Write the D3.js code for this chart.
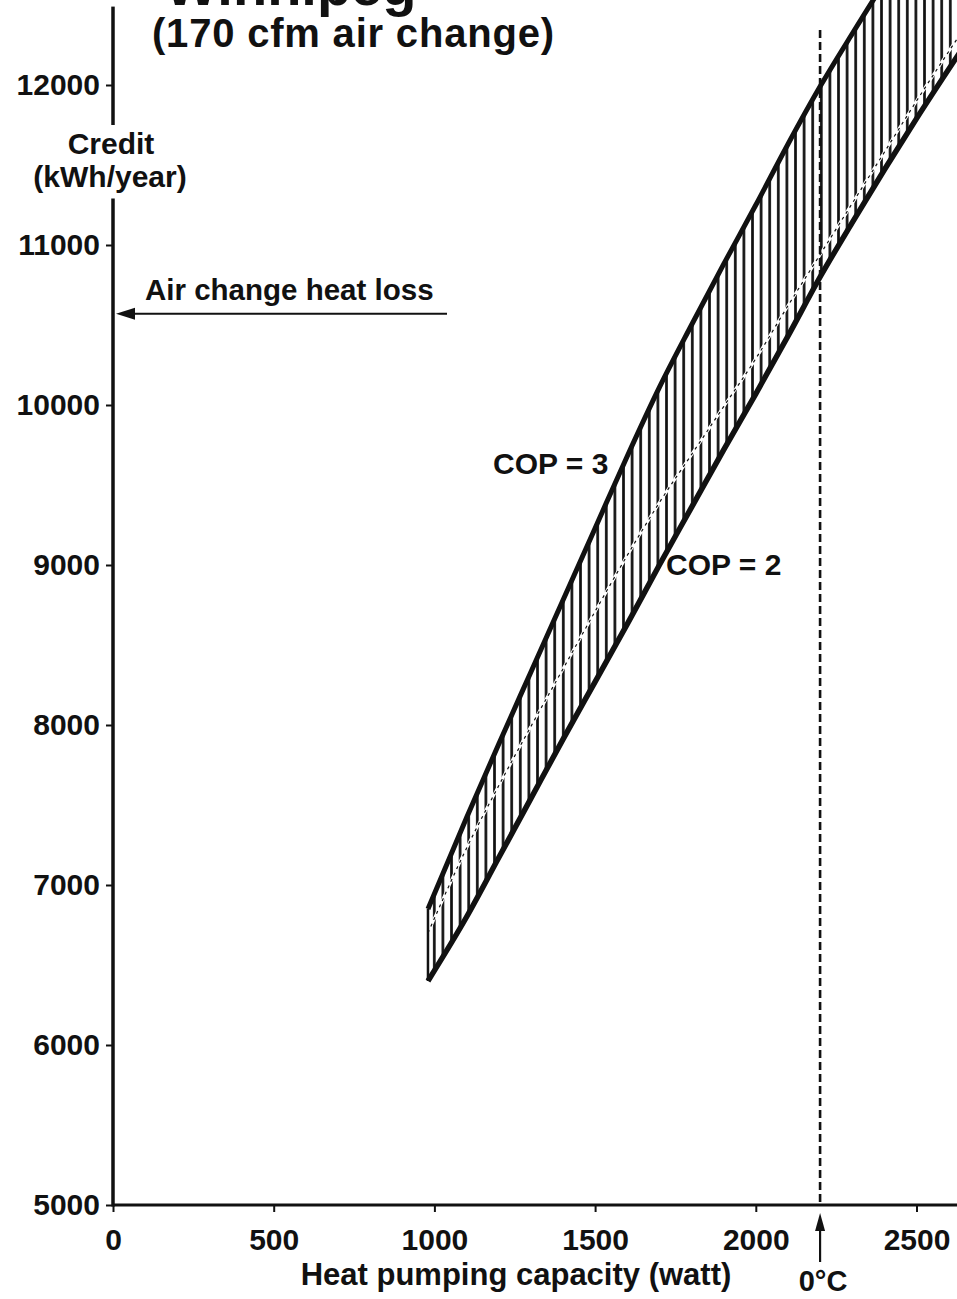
<!DOCTYPE html>
<html>
<head>
<meta charset="utf-8">
<script src="https://cdn.jsdelivr.net/npm/d3@7"></script>
<style>
  html, body { margin: 0; padding: 0; background: #fff; }
  svg { display: block; }
  text { font-family: "Liberation Sans", Arial, Helvetica, sans-serif; font-weight: bold; fill: #111; }
</style>
</head>
<body>
<div id="vis"></div>
<script>
// heat pumping capacity (watt) at which each curve was read
const capacity = [980, 1100, 1200, 1300, 1400, 1500, 1600, 1700, 1800, 1900, 2000, 2100, 2200, 2300, 2400, 2500, 2650];
// credit (kWh/year)
const cop3 = [6850, 7420, 7880, 8330, 8780, 9230, 9680, 10110, 10500, 10880, 11250, 11630, 11990, 12320, 12640, 12940, 13380];
const cop2 = [6400, 6800, 7170, 7540, 7910, 8270, 8630, 9000, 9360, 9720, 10070, 10430, 10800, 11140, 11470, 11790, 12250];
const midDashed = [6700, 7230, 7620, 7990, 8350, 8710, 9060, 9390, 9690, 9990, 10290, 10620, 10940, 11260, 11580, 11900, 12360];

const xTicks = [0, 500, 1000, 1500, 2000, 2500];
const yTicks = [5000, 6000, 7000, 8000, 9000, 10000, 11000, 12000];
const airChangeLoss = 10570;   // kWh/year
const zeroDegC = 2200;         // watt

const width = 957, height = 1299;

const svg = d3.select('#vis').append('svg')
  .attr('width', width)
  .attr('height', height);

const x = d3.scaleLinear().domain([0, 2500]).range([113, 916.5]);
const y = d3.scaleLinear().domain([5000, 12000]).range([1205, 85]);

// hatch pattern for the band
const defs = svg.append('defs');
defs.append('pattern')
  .attr('id', 'hatch')
  .attr('patternUnits', 'userSpaceOnUse')
  .attr('width', 8.6)
  .attr('height', 10)
  .append('line')
    .attr('x1', 4.3).attr('x2', 4.3)
    .attr('y1', 0).attr('y2', 10)
    .attr('stroke', '#111')
    .attr('stroke-width', 2.7);

// band between COP = 2 and COP = 3
const band = capacity.map((c, i) => ({ c: c, hi: cop3[i], lo: cop2[i], mid: midDashed[i] }));

const area = d3.area()
  .x(d => x(d.c))
  .y0(d => y(d.lo))
  .y1(d => y(d.hi))
  .curve(d3.curveMonotoneX);

svg.append('path')
  .datum(band)
  .attr('d', area)
  .attr('fill', 'url(#hatch)');

const lineOf = key => d3.line()
  .x(d => x(d.c))
  .y(d => y(d[key]))
  .curve(d3.curveMonotoneX);

// dashed middle line across the hatching
svg.append('path')
  .datum(band)
  .attr('d', lineOf('mid'))
  .attr('fill', 'none')
  .attr('stroke', '#fff')
  .attr('stroke-width', 3);
svg.append('path')
  .datum(band)
  .attr('d', lineOf('mid'))
  .attr('fill', 'none')
  .attr('stroke', '#111')
  .attr('stroke-width', 1.2)
  .attr('stroke-dasharray', '3,4');

svg.append('path')
  .datum(band)
  .attr('d', lineOf('hi'))
  .attr('fill', 'none')
  .attr('stroke', '#111')
  .attr('stroke-width', 5);

svg.append('path')
  .datum(band)
  .attr('d', lineOf('lo'))
  .attr('fill', 'none')
  .attr('stroke', '#111')
  .attr('stroke-width', 5.5);

svg.append('line')
  .attr('x1', x(capacity[0])).attr('x2', x(capacity[0]))
  .attr('y1', y(cop2[0])).attr('y2', y(cop3[0]))
  .attr('stroke', '#111')
  .attr('stroke-width', 2.5);

// 0°C dashed vertical
svg.append('line')
  .attr('x1', x(zeroDegC)).attr('x2', x(zeroDegC))
  .attr('y1', 30).attr('y2', y(5000))
  .attr('stroke', '#111')
  .attr('stroke-width', 2.6)
  .attr('stroke-dasharray', '8,4');

// axes
const yAxis = d3.axisLeft(y).tickValues(yTicks).tickSize(7).tickPadding(6).tickFormat(d3.format('d'));
const xAxis = d3.axisBottom(x).tickValues(xTicks).tickSize(7).tickPadding(17).tickFormat(d3.format('d'));

const gy = svg.append('g').attr('transform', 'translate(' + x(0) + ',0)').call(yAxis);
const gx = svg.append('g').attr('transform', 'translate(0,' + y(5000) + ')').call(xAxis);

[gx, gy].forEach(g => {
  g.select('.domain').remove();
  g.selectAll('.tick line').attr('stroke', '#111').attr('stroke-width', 2);
  g.selectAll('.tick text')
    .attr('fill', '#111')
    .style('font-size', '30px')
    .style('font-family', '"Liberation Sans", Arial, sans-serif')
    .style('font-weight', 'bold');
});

// y axis line, broken around its title
svg.append('line')
  .attr('x1', x(0)).attr('x2', x(0))
  .attr('y1', y(5000) + 1.5).attr('y2', y(11290))
  .attr('stroke', '#111').attr('stroke-width', 3.5);
svg.append('line')
  .attr('x1', x(0)).attr('x2', x(0))
  .attr('y1', y(11750)).attr('y2', y(12490))
  .attr('stroke', '#111').attr('stroke-width', 3.5);

svg.append('line')
  .attr('x1', x(0)).attr('x2', width)
  .attr('y1', y(5000)).attr('y2', y(5000))
  .attr('stroke', '#111').attr('stroke-width', 3);

// air change heat loss arrow
const ay = y(airChangeLoss);
svg.append('line')
  .attr('x1', x(0) + 14).attr('x2', 447)
  .attr('y1', ay).attr('y2', ay)
  .attr('stroke', '#111').attr('stroke-width', 2);
svg.append('path')
  .attr('d', 'M' + (x(0) + 3) + ',' + ay + 'L' + (x(0) + 22) + ',' + (ay - 6) + 'L' + (x(0) + 22) + ',' + (ay + 6) + 'Z')
  .attr('fill', '#111');

// 0°C arrow under the axis
const zx = x(zeroDegC);
svg.append('line')
  .attr('x1', zx).attr('x2', zx)
  .attr('y1', 1262).attr('y2', 1225)
  .attr('stroke', '#111').attr('stroke-width', 2.2);
svg.append('path')
  .attr('d', 'M' + zx + ',1213L' + (zx - 5) + ',1231L' + (zx + 5) + ',1231Z')
  .attr('fill', '#111');

// texts
function label(t, px, py, size, anchor, spacing) {
  svg.append('text')
    .attr('x', px).attr('y', py)
    .attr('text-anchor', anchor || 'start')
    .style('font-size', size + 'px')
    .style('letter-spacing', (spacing || 0) + 'px')
    .text(t);
}

label('Winnipeg', 165, 5, 56);
label('(170 cfm air change)', 152, 47, 40, 'start', 0.8);
label('Credit', x(0) - 2, 154, 30, 'middle');
label('(kWh/year)', x(0) - 3, 187, 30, 'middle');
label('Air change heat loss', 145, 300, 29.5);
label('COP = 3', 493, 474, 30);
label('COP = 2', 666, 575, 30);
label('Heat pumping capacity (watt)', 516, 1285, 31, 'middle');
label('0°C', zx + 3, 1291, 29, 'middle');
</script>
</body>
</html>
